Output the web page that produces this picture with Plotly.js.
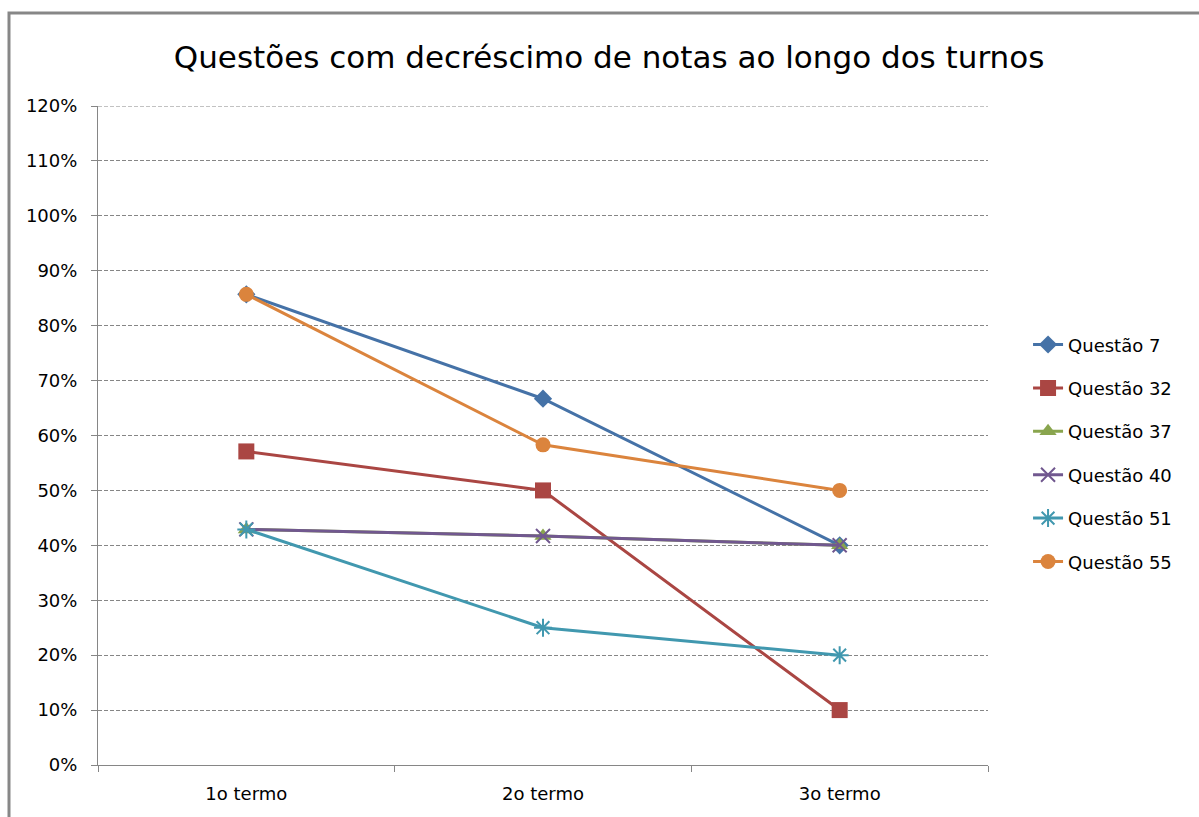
<!DOCTYPE html>
<html><head><meta charset="utf-8">
<script src="https://cdn.plot.ly/plotly-3.0.1.min.js"></script>
<style>body{margin:0;background:#fff}#c{width:1199px;height:817px}</style>
</head><body><div id="c"></div>
<script>
const categories = ["1o termo", "2o termo", "3o termo"];
const seriesNames = ["Questão 7", "Questão 32", "Questão 37", "Questão 40", "Questão 51", "Questão 55"];
const q7  = [0.857, 0.667, 0.40];
const q32 = [0.571, 0.50, 0.10];
const q37 = [0.429, 0.417, 0.40];
const q40 = [0.429, 0.417, 0.40];
const q51 = [0.429, 0.25, 0.20];
const q55 = [0.857, 0.583, 0.50];
const yTickVals = [0,0.1,0.2,0.3,0.4,0.5,0.6,0.7,0.8,0.9,1.0,1.1,1.2];

const values = [q7, q32, q37, q40, q51, q55];
const colors = ["#4572A7", "#AA4643", "#89A54E", "#71588F", "#4198AF", "#DB843D"];
const symbols = ["diamond", "square", "triangle-up", "x-thin-open", "asterisk-open", "circle"];
const sizes = [14, 16, 15, 14, 15, 15];

const traces = values.map((v, i) => ({
  x: categories, y: v, name: seriesNames[i], type: "scatter", mode: "lines+markers",
  legendgroup: "g" + i,
  line: {color: colors[i], width: 3},
  marker: {symbol: symbols[i], size: sizes[i], color: colors[i], line: {color: colors[i], width: (i === 3 || i === 4) ? 2 : 0}}
}));

const dash = "4px,2px";
const layout = {
  width: 1199, height: 817,
  margin: {l: 98, r: 211, t: 106, b: 52},
  paper_bgcolor: "#fff", plot_bgcolor: "#fff",
  font: {family: "'DejaVu Sans', sans-serif", color: "#000"},
  title: {text: "Questões com decréscimo de notas ao longo dos turnos", font: {size: 31, color: "#000"}, x: 0.508, xanchor: "center", y: 0.93, yanchor: "middle"},
  showlegend: true,
  legend: {x: 1.045, xanchor: "left", y: 0.473, yanchor: "middle", font: {size: 18, color: "#000"}, traceorder: "grouped", tracegroupgap: 17, bgcolor: "rgba(0,0,0,0)"},
  xaxis: {
    type: "category", range: [-0.5, 2.5], showgrid: false, zeroline: false,
    showline: true, linecolor: "#868686", linewidth: 1,
    ticks: "outside", tickson: "boundaries", ticklen: 6, tickcolor: "#868686",
    ticklabelstandoff: 12,
    tickfont: {size: 18, color: "#000"}
  },
  yaxis: {
    range: [0, 1.2], tickvals: yTickVals, tickformat: ".0%",
    showgrid: true, gridcolor: "#868686", griddash: dash, gridwidth: 1,
    zeroline: false, showline: true, linecolor: "#868686", linewidth: 1,
    ticks: "outside", ticklen: 6, tickcolor: "#868686",
    ticklabelstandoff: 10,
    tickfont: {size: 18, color: "#000"}
  },
  shapes: [
    {type: "line", xref: "paper", yref: "y", x0: 0, x1: 1, y0: 1.2, y1: 1.2, line: {color: "#868686", width: 1, dash: dash}, layer: "below"},
    {type: "rect", xref: "paper", yref: "paper", x0: -0.1, x1: 1.4, y0: -0.3, y1: 1.141, line: {color: "#878787", width: 3}, fillcolor: "rgba(0,0,0,0)", layer: "below"}
  ]
};
Plotly.newPlot("c", traces, layout, {displayModeBar: false});
</script></body></html>
